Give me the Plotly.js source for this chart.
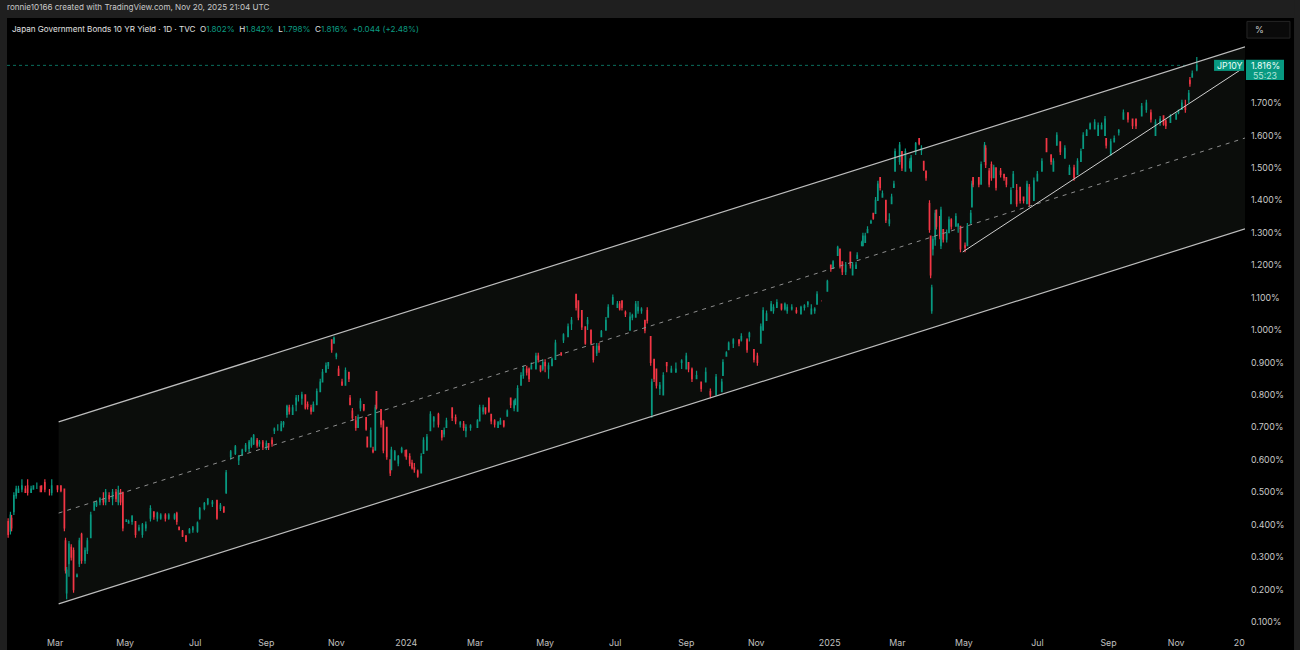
<!DOCTYPE html>
<html><head><meta charset="utf-8">
<script src="https://cdn.plot.ly/plotly-3.0.1.min.js"></script>
<style>html,body{margin:0;padding:0;background:#000;overflow:hidden}#chart{width:1300px;height:650px}</style>
</head><body><div id="chart"></div>
<script>
// Each row: [day of month, open, high, low, close] in percent.
const jan2023=[[17,.47,.48,.42,.43],[19,.41,.42,.36,.37],[21,.38,.44,.37,.43],[22,.42,.43,.38,.39],[24,.44,.50,.43,.49],[26,.49,.52,.48,.51],[28,.50,.52,.50,.51],[31,.51,.54,.50,.52]];
const feb2023=[[3,.51,.52,.50,.50],[5,.52,.54,.49,.50],[8,.50,.52,.50,.51],[10,.51,.52,.51,.52],[13,.52,.53,.51,.52],[16,.51,.52,.50,.51],[17,.52,.52,.50,.51],[20,.53,.54,.50,.51],[24,.50,.51,.49,.50],[26,.50,.54,.49,.52]];
const mar2023=[[3,.52,.52,.50,.51],[6,.52,.52,.50,.505],[9,.51,.51,.38,.39],[10,.35,.36,.25,.26],[11,.19,.27,.17,.26],[13,.28,.35,.24,.34],[15,.33,.34,.29,.30],[17,.32,.33,.19,.20],[20,.24,.25,.24,.245],[22,.28,.36,.27,.35],[24,.37,.375,.28,.29],[27,.29,.33,.28,.32],[29,.32,.36,.31,.35]];
const apr2023=[[1,.36,.44,.36,.43],[4,.445,.47,.445,.465],[6,.46,.475,.455,.47],[9,.47,.485,.46,.48],[12,.48,.50,.46,.47],[14,.47,.51,.46,.50],[17,.49,.50,.47,.48],[20,.48,.51,.46,.50],[23,.50,.51,.47,.48],[25,.47,.52,.46,.505],[27,.50,.51,.46,.47],[29,.50,.50,.38,.39]];
const may2023=[[2,.41,.415,.41,.415],[4,.405,.415,.405,.41],[7,.41,.43,.40,.425],[10,.41,.41,.36,.37],[13,.385,.40,.38,.39],[16,.37,.405,.36,.40],[19,.39,.41,.38,.40],[23,.42,.46,.41,.45],[26,.44,.44,.415,.425],[29,.42,.44,.41,.435]];
const jun2023=[[1,.42,.435,.415,.43],[5,.43,.435,.41,.42],[8,.42,.435,.415,.43],[13,.42,.435,.415,.43],[15,.435,.44,.40,.41],[17,.393,.393,.384,.385],[20,.38,.384,.362,.365],[23,.365,.368,.347,.35],[26,.375,.39,.375,.385],[29,.385,.396,.375,.39]];
const jul2023=[[3,.38,.41,.375,.405],[5,.42,.455,.415,.45],[9,.45,.47,.445,.465],[12,.465,.482,.46,.48],[16,.465,.476,.455,.47],[20,.475,.476,.415,.42],[23,.45,.467,.442,.46],[26,.455,.455,.436,.44],[28,.50,.569,.495,.56]];
const aug2023=[[1,.61,.63,.60,.625],[5,.62,.646,.615,.64],[8,.60,.615,.584,.61],[11,.615,.634,.612,.63],[14,.63,.652,.624,.645],[17,.635,.661,.624,.655],[19,.645,.67,.637,.665],[21,.65,.68,.646,.675],[24,.66,.667,.637,.645],[26,.65,.661,.64,.655],[29,.655,.661,.63,.64]];
const sep2023=[[1,.64,.66,.63,.65],[3,.65,.65,.63,.64],[6,.66,.67,.64,.65],[8,.69,.70,.68,.695],[11,.70,.71,.69,.70],[14,.69,.72,.69,.71],[16,.71,.72,.70,.715],[19,.74,.77,.73,.765],[21,.76,.77,.74,.75],[24,.74,.77,.74,.76],[27,.77,.80,.75,.79],[29,.79,.80,.78,.79]];
const oct2023=[[2,.79,.81,.77,.80],[5,.80,.80,.755,.76],[7,.77,.78,.755,.765],[10,.76,.77,.74,.75],[12,.75,.78,.75,.77],[15,.77,.82,.77,.81],[18,.81,.85,.81,.84],[20,.84,.88,.84,.87],[23,.87,.90,.87,.89],[25,.89,.90,.88,.90],[28,.97,.97,.93,.94],[30,.96,.98,.96,.975]];
const nov2023=[[1,.92,.93,.91,.925],[3,.88,.89,.86,.86],[6,.84,.85,.83,.83],[9,.83,.885,.84,.875],[12,.87,.87,.84,.85],[13,.79,.80,.77,.77],[15,.75,.76,.72,.73],[18,.72,.735,.69,.70],[20,.70,.74,.70,.73],[22,.76,.79,.75,.78],[25,.77,.77,.75,.755],[27,.73,.73,.69,.695],[28,.67,.67,.64,.64]];
const dec2023=[[1,.64,.70,.64,.69],[3,.63,.64,.62,.625],[5,.63,.77,.66,.76],[6,.81,.81,.755,.76],[10,.755,.755,.70,.71],[12,.72,.72,.62,.63],[15,.70,.70,.60,.61],[18,.60,.60,.55,.56],[19,.57,.64,.57,.63],[22,.60,.63,.60,.625],[25,.59,.615,.58,.61],[28,.625,.64,.62,.635],[31,.62,.63,.61,.62]];
const jan2024=[[1,.63,.63,.60,.61],[4,.61,.62,.58,.59],[6,.59,.60,.57,.575],[8,.575,.59,.56,.57],[11,.565,.57,.545,.55],[14,.56,.62,.56,.61],[16,.62,.67,.62,.66],[19,.63,.68,.63,.67],[22,.69,.75,.69,.74],[25,.72,.735,.70,.73],[29,.74,.745,.70,.71]];
const feb2024=[[1,.69,.69,.66,.67],[3,.68,.70,.67,.69],[5,.70,.73,.70,.72],[10,.76,.76,.72,.73],[13,.73,.74,.71,.72],[17,.71,.72,.70,.715],[20,.71,.72,.69,.70],[22,.69,.71,.67,.70],[26,.70,.71,.69,.705]];
const mar2024=[[3,.70,.725,.70,.72],[5,.72,.77,.72,.76],[8,.75,.77,.74,.76],[10,.76,.76,.74,.745],[13,.79,.79,.745,.75],[15,.74,.74,.71,.72],[18,.72,.725,.70,.71],[21,.70,.72,.70,.715],[23,.71,.73,.71,.72],[26,.72,.72,.70,.705],[29,.735,.755,.735,.75]];
const apr2024=[[1,.79,.79,.76,.77],[4,.76,.785,.75,.78],[5,.77,.79,.77,.785],[7,.75,.83,.75,.82],[10,.83,.87,.83,.86],[12,.86,.89,.85,.88],[15,.88,.89,.86,.87],[17,.88,.885,.84,.85],[19,.88,.90,.88,.89],[23,.88,.93,.89,.92],[25,.92,.93,.90,.91],[27,.89,.885,.87,.875],[29,.88,.91,.875,.90]];
const may2024=[[1,.90,.91,.87,.89],[4,.88,.90,.85,.89],[7,.89,.915,.89,.91],[10,.91,.97,.91,.96],[15,.93,.93,.92,.925],[17,.97,.99,.96,.985],[21,.98,1.02,.98,1.01],[24,1.02,1.04,1.00,1.03],[28,1.11,1.11,1.06,1.07],[30,1.09,1.09,1.03,1.04]];
const jun2024=[[2,1.06,1.06,1.00,1.01],[5,1.01,1.01,.955,.96],[7,1.02,1.04,1.00,1.03],[10,1.00,1.00,.955,.96],[12,.95,.95,.90,.91],[15,.93,.96,.92,.95],[17,.95,.96,.93,.94],[19,.98,1.00,.98,.995],[23,1.00,1.04,1.00,1.03],[25,1.04,1.08,1.04,1.07],[29,1.08,1.11,1.08,1.10]];
const jul2024=[[3,1.07,1.09,1.07,1.08],[5,1.08,1.09,1.06,1.065],[7,1.09,1.09,1.06,1.07],[10,1.055,1.06,1.04,1.05],[14,1.00,1.055,1.00,1.04],[16,1.04,1.05,1.03,1.045],[19,1.04,1.09,1.04,1.08],[21,1.06,1.09,1.05,1.07],[24,1.06,1.07,1.05,1.065],[27,1.03,1.03,.99,1.00],[29,1.06,1.07,1.02,1.03]];
const aug2024=[[1,.98,.98,.89,.90],[2,.74,.85,.73,.84],[4,.91,.91,.84,.85],[6,.88,.88,.82,.83],[9,.82,.84,.80,.83],[12,.80,.87,.81,.86],[15,.90,.90,.87,.89],[19,.87,.89,.87,.88],[23,.87,.90,.87,.88],[28,.90,.91,.88,.905]];
const sep2024=[[1,.88,.93,.88,.92],[3,.90,.90,.87,.88],[6,.88,.885,.84,.85],[10,.85,.875,.85,.86],[14,.84,.84,.81,.82],[18,.84,.885,.84,.87],[22,.81,.82,.79,.80],[27,.80,.865,.80,.855]];
const oct2024=[[2,.81,.85,.81,.84],[3,.86,.91,.86,.90],[6,.92,.935,.92,.93],[8,.94,.965,.94,.96],[12,.96,.975,.945,.97],[17,.97,.97,.95,.96],[19,.97,.99,.965,.98],[24,.97,.975,.93,.94],[26,.98,.995,.965,.99],[30,.94,.94,.90,.91]];
const nov2024=[[2,.92,.93,.89,.90],[5,.96,1.02,.96,1.01],[7,1.00,1.07,1.00,1.06],[10,1.03,1.06,1.03,1.05],[14,1.06,1.09,1.06,1.08],[16,1.06,1.08,1.05,1.07],[19,1.07,1.095,1.07,1.085],[23,1.08,1.08,1.06,1.065],[26,1.065,1.085,1.06,1.08],[28,1.06,1.08,1.05,1.07]];
const dec2024=[[2,1.065,1.08,1.06,1.07],[6,1.06,1.07,1.05,1.055],[10,1.05,1.075,1.05,1.07],[13,1.07,1.08,1.06,1.075],[16,1.08,1.09,1.07,1.085],[19,1.05,1.08,1.06,1.065],[22,1.06,1.07,1.05,1.065],[24,1.08,1.12,1.09,1.11],[28,1.09,1.09,1.09,1.09]];
const jan2025=[[2,1.12,1.155,1.12,1.15],[5,1.20,1.20,1.18,1.19],[7,1.19,1.215,1.19,1.21],[11,1.23,1.26,1.23,1.255],[13,1.25,1.25,1.19,1.20],[15,1.21,1.21,1.17,1.18],[18,1.18,1.21,1.17,1.20],[22,1.24,1.24,1.19,1.20],[24,1.17,1.21,1.18,1.20],[27,1.19,1.21,1.19,1.20],[28,1.22,1.24,1.22,1.23]];
const feb2025=[[1,1.26,1.275,1.26,1.27],[2,1.26,1.30,1.26,1.29],[4,1.27,1.30,1.27,1.29],[6,1.30,1.32,1.30,1.31],[9,1.33,1.34,1.33,1.335],[11,1.36,1.36,1.34,1.345],[13,1.36,1.41,1.36,1.40],[15,1.40,1.46,1.40,1.45],[17,1.47,1.47,1.43,1.44],[19,1.41,1.43,1.41,1.42],[22,1.40,1.40,1.33,1.34],[25,1.33,1.36,1.32,1.34],[27,1.39,1.42,1.39,1.41]];
const mar2025=[[1,1.44,1.46,1.44,1.45],[2,1.49,1.56,1.49,1.55],[6,1.52,1.58,1.51,1.57],[8,1.55,1.54,1.49,1.50],[11,1.49,1.56,1.49,1.55],[15,1.50,1.53,1.50,1.52],[16,1.49,1.54,1.50,1.53],[20,1.55,1.58,1.54,1.575],[23,1.59,1.59,1.57,1.575],[25,1.555,1.57,1.54,1.56],[27,1.52,1.52,1.49,1.495],[29,1.49,1.49,1.46,1.47]];
const apr2025=[[1,1.39,1.40,1.30,1.31],[2,1.29,1.29,1.16,1.17],[3,1.06,1.14,1.05,1.13],[4,1.25,1.29,1.23,1.28],[6,1.28,1.37,1.26,1.36],[7,1.37,1.37,1.31,1.32],[10,1.35,1.35,1.28,1.29],[11,1.26,1.38,1.25,1.37],[13,1.31,1.31,1.27,1.28],[16,1.28,1.31,1.27,1.30],[18,1.30,1.35,1.30,1.34],[20,1.34,1.345,1.31,1.32],[24,1.32,1.36,1.32,1.35],[26,1.32,1.33,1.30,1.325],[28,1.32,1.32,1.24,1.25]];
const may2025=[[2,1.26,1.27,1.24,1.255],[4,1.26,1.33,1.26,1.32],[7,1.33,1.37,1.33,1.36],[8,1.38,1.46,1.38,1.45],[9,1.47,1.47,1.44,1.45],[14,1.47,1.47,1.44,1.45],[16,1.45,1.52,1.45,1.51],[19,1.52,1.58,1.52,1.57],[20,1.56,1.57,1.50,1.51],[23,1.49,1.50,1.44,1.45],[25,1.51,1.52,1.46,1.47],[27,1.47,1.51,1.47,1.50],[29,1.50,1.50,1.43,1.44]];
const jun2025=[[2,1.49,1.50,1.47,1.48],[5,1.48,1.48,1.46,1.47],[7,1.47,1.47,1.44,1.45],[11,1.39,1.44,1.39,1.43],[13,1.44,1.49,1.44,1.48],[16,1.43,1.45,1.38,1.39],[19,1.44,1.44,1.39,1.40],[22,1.41,1.41,1.39,1.40],[25,1.39,1.46,1.39,1.45],[27,1.44,1.45,1.38,1.39]];
const jul2025=[[1,1.40,1.47,1.40,1.46],[4,1.46,1.49,1.46,1.48],[8,1.49,1.53,1.49,1.52],[12,1.59,1.59,1.55,1.55],[16,1.54,1.54,1.51,1.52],[18,1.49,1.53,1.49,1.52],[21,1.57,1.61,1.57,1.60],[24,1.58,1.58,1.54,1.55],[28,1.53,1.57,1.53,1.56]];
const aug2025=[[1,1.48,1.51,1.48,1.50],[5,1.50,1.51,1.46,1.47],[8,1.48,1.53,1.48,1.52],[11,1.52,1.56,1.52,1.55],[13,1.56,1.61,1.56,1.60],[16,1.60,1.62,1.60,1.615],[19,1.62,1.64,1.62,1.635],[23,1.62,1.65,1.62,1.64],[26,1.60,1.64,1.60,1.63],[29,1.62,1.64,1.62,1.63]];
const sep2025=[[1,1.60,1.66,1.60,1.65],[2,1.59,1.59,1.56,1.57],[6,1.54,1.59,1.54,1.58],[9,1.58,1.60,1.58,1.59],[13,1.61,1.62,1.60,1.615],[17,1.65,1.68,1.65,1.67],[21,1.67,1.67,1.64,1.65],[25,1.65,1.65,1.62,1.63],[28,1.65,1.65,1.62,1.63]];
const oct2025=[[3,1.66,1.70,1.66,1.69],[7,1.68,1.71,1.67,1.70],[11,1.67,1.68,1.64,1.65],[15,1.60,1.65,1.60,1.64],[19,1.64,1.66,1.63,1.65],[22,1.66,1.66,1.63,1.635],[24,1.645,1.65,1.62,1.63],[28,1.64,1.665,1.64,1.66]];
const nov2025=[[2,1.65,1.67,1.65,1.665],[4,1.67,1.68,1.665,1.675],[7,1.68,1.71,1.68,1.70],[10,1.69,1.71,1.67,1.68],[13,1.71,1.74,1.70,1.73],[14,1.77,1.78,1.75,1.76],[16,1.78,1.80,1.78,1.79],[20,1.802,1.842,1.798,1.816]];

const monthNames=['2023-01','2023-02','2023-03','2023-04','2023-05','2023-06','2023-07','2023-08','2023-09','2023-10','2023-11','2023-12','2024-01','2024-02','2024-03','2024-04','2024-05','2024-06','2024-07','2024-08','2024-09','2024-10','2024-11','2024-12','2025-01','2025-02','2025-03','2025-04','2025-05','2025-06','2025-07','2025-08','2025-09','2025-10','2025-11'];
const monthRows=[jan2023,feb2023,mar2023,apr2023,may2023,jun2023,jul2023,aug2023,sep2023,oct2023,nov2023,dec2023,jan2024,feb2024,mar2024,apr2024,may2024,jun2024,jul2024,aug2024,sep2024,oct2024,nov2024,dec2024,jan2025,feb2025,mar2025,apr2025,may2025,jun2025,jul2025,aug2025,sep2025,oct2025,nov2025];

const channelDates=['2023-03-04','2026-01-01'];
const channelUpper=[.717,1.873];
const channelMiddle=[.436,1.592];
const channelLower=[.156,1.312];
const wedgeDates=['2025-04-30','2025-12-28'];
const wedgeValues=[1.241,1.802];
const lastPrice=1.816;

const xTickDates=['2023-03-01','2023-05-01','2023-07-01','2023-09-01','2023-11-01','2024-01-01','2024-03-01','2024-05-01','2024-07-01','2024-09-01','2024-11-01','2025-01-04','2025-03-04','2025-05-01','2025-07-04','2025-09-04','2025-11-02','2025-12-27'];
const xTickLabels=['Mar','May','Jul','Sep','Nov','2024','Mar','May','Jul','Sep','Nov','2025','Mar','May','Jul','Sep','Nov','20'];
const yTicks=[.1,.2,.3,.4,.5,.6,.7,.8,.9,1,1.1,1.2,1.3,1.4,1.5,1.6,1.7];
const yTickLabels=['0.100%','0.200%','0.300%','0.400%','0.500%','0.600%','0.700%','0.800%','0.900%','1.000%','1.100%','1.200%','1.300%','1.400%','1.500%','1.600%','1.700%'];

const dates=[],opens=[],highs=[],lows=[],closes=[];
monthRows.forEach((rows,m)=>rows.forEach(r=>{
  dates.push(monthNames[m]+'-'+String(r[0]).padStart(2,'0'));
  opens.push(r[1]);highs.push(r[2]);lows.push(r[3]);closes.push(r[4]);
}));

const UP='#089981',DOWN='#f23645',FONT='Inter, "Noto Sans", sans-serif';
const bandPath='M'+channelDates[0]+','+channelLower[0]+' L'+channelDates[1]+','+channelLower[1]+' L'+channelDates[1]+','+channelUpper[1]+' L'+channelDates[0]+','+channelUpper[0]+' Z';
const traces=[
 {type:'scatter',mode:'lines',x:channelDates,y:channelLower,line:{color:'#bdbdbd',width:1.2},hoverinfo:'skip'},
 {type:'scatter',mode:'lines',x:channelDates,y:channelUpper,line:{color:'#bdbdbd',width:1.2},hoverinfo:'skip'},
 {type:'scatter',mode:'lines',x:channelDates,y:channelMiddle,line:{color:'#8e8e8e',width:1,dash:'4px 5px'},hoverinfo:'skip'},
 {type:'candlestick',x:dates,open:opens,high:highs,low:lows,close:closes,whiskerwidth:0,
  increasing:{line:{color:UP,width:1.2},fillcolor:UP},decreasing:{line:{color:DOWN,width:1.2},fillcolor:DOWN}},
 {type:'scatter',mode:'lines',x:wedgeDates,y:wedgeValues,line:{color:'#cfcfcf',width:1},hoverinfo:'skip'}
];
const layout={
 width:1300,height:650,showlegend:false,paper_bgcolor:'#000',plot_bgcolor:'#000',
 margin:{l:7,r:55,t:18,b:14,autoexpand:false},
 font:{family:FONT,color:'#c8c8c8',size:8.1},
 xaxis:{type:'date',range:['2023-01-18','2026-01-01'],rangeslider:{visible:false},showgrid:false,zeroline:false,showline:false,
  tickmode:'array',tickvals:xTickDates,ticktext:xTickLabels,ticks:'',tickfont:{size:8.8,color:'#c0c0c0',family:FONT},ticklabelstandoff:0},
 yaxis:{side:'right',range:[.057,1.962],showgrid:false,zeroline:false,showline:false,tickmode:'array',tickvals:yTicks,ticktext:yTickLabels,ticks:'',
  tickfont:{size:8.8,color:'#c8c8c8',family:FONT},ticklabelstandoff:5},
 shapes:[
  {type:'path',xref:'x',yref:'y',path:bandPath,fillcolor:'#0b0d0b',line:{width:0},layer:'below'},
  {type:'rect',xref:'paper',yref:'paper',x0:-0.01,x1:1.05,y0:1,y1:1.04,fillcolor:'#1f1f1f',line:{width:0},layer:'above'},
  {type:'rect',xref:'paper',yref:'paper',x0:-0.006,x1:0,y0:-0.03,y1:1.04,fillcolor:'#1f1f1f',line:{width:0},layer:'above'},
  {type:'rect',xref:'paper',yref:'paper',x0:1.0396,x1:1.05,y0:-0.03,y1:1.04,fillcolor:'#1f1f1f',line:{width:0},layer:'above'},
  {type:'line',xref:'paper',yref:'y',x0:0,x1:1,y0:lastPrice,y1:lastPrice,line:{color:'#0a6f5d',width:1,dash:'dot'},layer:'below'},
  {type:'rect',xref:'paper',yref:'paper',x0:1.0016,x1:1.0363,y0:.9675,y1:.9945,fillcolor:'#0a0a0a',line:{color:'#262626',width:1}},
  {type:'rect',xref:'paper',yref:'y',x0:1.0008,x1:1.0315,y0:1.771,y1:1.833,fillcolor:UP,line:{width:0}},
  {type:'rect',xref:'paper',yref:'y',x0:.975,x1:.9992,y0:1.799,y1:1.833,fillcolor:UP,line:{width:0}}
 ],
 annotations:[
  {xref:'paper',yref:'paper',x:-0.0016,y:1.0175,xanchor:'left',yanchor:'middle',showarrow:false,text:'ronnie10166 created with TradingView.com, Nov 20, 2025 21:04 UTC',font:{size:8.1,color:'#c8c8c8'}},
  {xref:'paper',yref:'paper',x:.0024,y:.982,xanchor:'left',yanchor:'middle',showarrow:false,
   text:'<span style="color:#e0e0e0">Japan Government Bonds 10 YR Yield · 1D · TVC  O</span>1.802%<span style="color:#e0e0e0">  H</span>1.842%<span style="color:#e0e0e0">  L</span>1.798%<span style="color:#e0e0e0">  C</span>1.816%  +0.044 (+2.48%)',font:{size:8.1,color:'#0c9a80'}},
  {xref:'paper',yref:'paper',x:1.0065,y:.981,xanchor:'left',yanchor:'middle',showarrow:false,text:'%',font:{size:9,color:'#c8c8c8'}},
  {xref:'paper',yref:'y',x:.9871,y:1.816,xanchor:'center',yanchor:'middle',showarrow:false,text:'JP10Y',font:{size:8.8,color:'#eafff9'}},
  {xref:'paper',yref:'y',x:1.0162,y:1.817,xanchor:'center',yanchor:'middle',showarrow:false,text:'1.816%',font:{size:8.8,color:'#f0fffb'}},
  {xref:'paper',yref:'y',x:1.0162,y:1.786,xanchor:'center',yanchor:'middle',showarrow:false,text:'55:23',font:{size:8.8,color:'#b5e5da'}}
 ]
};
Plotly.newPlot('chart',traces,layout,{displayModeBar:false,responsive:false});
</script></body></html>
